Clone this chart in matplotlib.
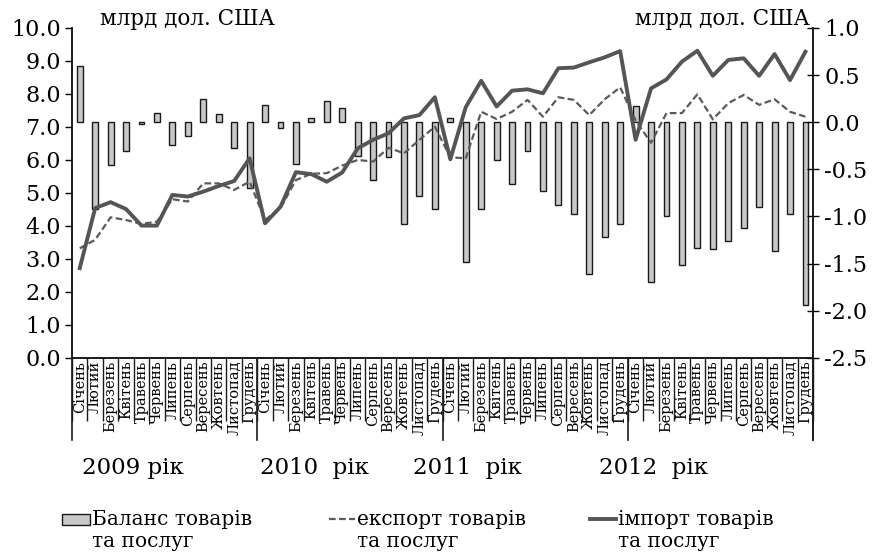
import matplotlib
matplotlib.use("Agg")
import matplotlib.pyplot as plt
from matplotlib.lines import Line2D
from matplotlib.patches import Rectangle
import numpy as np

# month names and years
months = ["Січень", "Лютий", "Березень", "Квітень", "Травень", "Червень",
          "Липень", "Серпень", "Вересень", "Жовтень", "Листопад", "Грудень"]
years = ["2009 рік", "2010  рік", "2011  рік", "2012  рік"]

# balance of goods and services (right axis), 2009-2012
balance = [0.60, -0.92, -0.45, -0.30, -0.02, 0.10, -0.24, -0.15, 0.25, 0.09, -0.27, -0.70,
           0.18, -0.06, -0.44, 0.04, 0.23, 0.15, -0.36, -0.61, -0.37, -1.08, -0.78, -0.92,
           0.05, -1.48, -0.92, -0.40, -0.65, -0.30, -0.73, -0.88, -0.97, -1.61, -1.22, -1.08,
           0.17, -1.69, -0.99, -1.51, -1.33, -1.34, -1.26, -1.12, -0.90, -1.37, -0.97, -1.94]

# export of goods and services (left axis)
export = [3.32, 3.58, 4.26, 4.18, 4.06, 4.13, 4.81, 4.74, 5.29, 5.29, 5.09, 5.34,
          4.18, 4.54, 5.39, 5.58, 5.60, 5.83, 6.00, 5.95, 6.37, 6.20, 6.61, 7.01,
          6.08, 6.05, 7.46, 7.24, 7.46, 7.82, 7.31, 7.90, 7.82, 7.36, 7.84, 8.20,
          7.20, 6.52, 7.42, 7.42, 7.99, 7.23, 7.72, 7.97, 7.67, 7.84, 7.46, 7.31]

# import of goods and services (left axis)
imports = [2.72, 4.54, 4.72, 4.51, 4.01, 4.01, 4.94, 4.89, 5.04, 5.21, 5.36, 6.05,
           4.08, 4.58, 5.63, 5.57, 5.34, 5.62, 6.35, 6.61, 6.81, 7.26, 7.36, 7.90,
           6.02, 7.60, 8.40, 7.62, 8.10, 8.14, 8.02, 8.78, 8.80, 8.96, 9.11, 9.30,
           6.61, 8.17, 8.44, 8.98, 9.31, 8.55, 9.03, 9.08, 8.55, 9.21, 8.42, 9.28]

# where each year caption starts (category units)
year_pos = [0.15, 11.7, 21.6, 33.6]

left_ticks = np.arange(0, 10.5, 1.0)
right_ticks = np.arange(-2.5, 1.01, 0.5)

plt.rcParams["font.family"] = "DejaVu Serif"

fig = plt.figure(figsize=(8.74, 5.54), dpi=100)
ax = fig.add_axes([0.0824, 0.354, 0.848, 0.5955])
ax2 = ax.twinx()
ax.set_zorder(ax2.get_zorder() + 1)
ax.patch.set_visible(False)

x = np.arange(len(balance))
ax2.bar(x, balance, width=0.38, color="#c8c8c8", edgecolor="#1a1a1a", linewidth=1.0)
ax.plot(x, export, color="#5a5a5a", lw=1.6, dashes=(3, 1.5))
ax.plot(x, imports, color="#555555", lw=2.8)

ax.set_xlim(-0.5, len(balance) - 0.5)
ax.set_ylim(0, 10)
ax2.set_ylim(-2.5, 1.0)

ax.set_yticks(left_ticks)
ax.set_yticklabels([f"{v:.1f}" for v in left_ticks], fontsize=16)
ax2.set_yticks(right_ticks)
ax2.set_yticklabels([f"{v:.1f}" for v in right_ticks], fontsize=16)
ax.tick_params(axis="y", direction="out", length=5, width=1, pad=3)
ax2.tick_params(axis="y", direction="inout", length=8, width=1, pad=4)

for a in (ax, ax2):
    a.spines["top"].set_visible(False)
    for s in ("left", "right", "bottom"):
        a.spines[s].set_linewidth(1.2)
        a.spines[s].set_color("#1a1a1a")

# category axis: separators between months, longer at year boundaries
ax.set_xticks(x)
ax.set_xticklabels(months * 4, rotation=90, fontsize=10.5, va="top", ha="center")
ax.tick_params(axis="x", length=0, pad=2)
bounds = np.arange(-0.5, len(balance), 1.0)
ax.set_xticks(bounds, minor=True)
ax.tick_params(axis="x", which="minor", length=45, width=1.0, color="#1a1a1a")
trans = ax.get_xaxis_transform()
for b in list(bounds[::12]) + [len(balance) - 0.5]:
    ax.plot([b, b], [0, -0.25], transform=trans, color="#1a1a1a", lw=1.2, clip_on=False)

for pos, yl in zip(year_pos, years):
    ax.text(pos, -0.335, yl, transform=trans, ha="left", va="center", fontsize=16.5)

fig.text(0.114, 0.965, "млрд дол. США", fontsize=15.5, ha="left", va="center")
fig.text(0.926, 0.965, "млрд дол. США", fontsize=15.5, ha="right", va="center")

# legend drawn by hand so the key sits beside the first text line
legend_font = dict(fontsize=14.5, va="center", ha="left")
y1, y2 = 0.063, 0.022
fig.patches.append(Rectangle((0.071, y1 - 0.010), 0.032, 0.020, transform=fig.transFigure,
                             facecolor="#c8c8c8", edgecolor="#1a1a1a", lw=1.0))
fig.text(0.105, y1, "Баланс товарів", **legend_font)
fig.text(0.105, y2, "та послуг", **legend_font)
fig.lines.append(Line2D([0.376, 0.406], [y1, y1], transform=fig.transFigure,
                        color="#5a5a5a", lw=1.6, dashes=(3, 1.5)))
fig.text(0.408, y1, "експорт товарів", **legend_font)
fig.text(0.408, y2, "та послуг", **legend_font)
fig.lines.append(Line2D([0.675, 0.705], [y1, y1], transform=fig.transFigure,
                        color="#555555", lw=2.8))
fig.text(0.707, y1, "імпорт товарів", **legend_font)
fig.text(0.707, y2, "та послуг", **legend_font)

fig.savefig("out.png", dpi=100)
